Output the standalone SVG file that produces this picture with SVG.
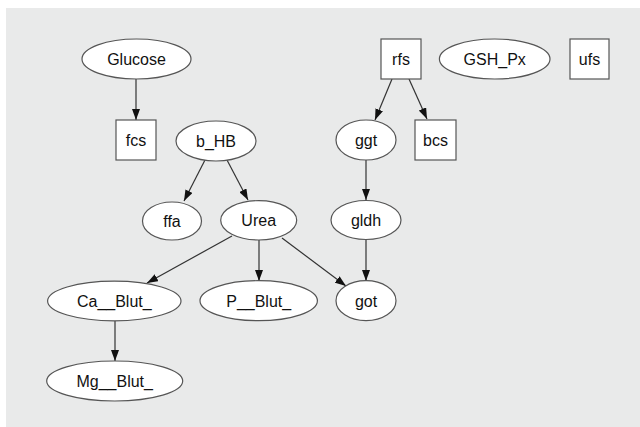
<svg xmlns="http://www.w3.org/2000/svg" width="640" height="427" viewBox="0 0 640 427">
<style>
.n ellipse, .n rect { fill: #ffffff; stroke: #555555; stroke-width: 1.2; }
.n text { font-family: "Liberation Sans", "DejaVu Sans", sans-serif; font-size: 16px; fill: #111111; text-anchor: middle; }
.e line { stroke: #333333; stroke-width: 1.2; marker-end: url(#arr); }
</style>
<defs>
<marker id="arr" viewBox="0 0 11 8" refX="11" refY="4" markerWidth="11" markerHeight="8" markerUnits="userSpaceOnUse" orient="auto">
<path d="M0,0 L11,4 L0,8 z" fill="#111111"/>
</marker>
</defs>
<rect x="0" y="0" width="640" height="427" fill="#ffffff"/>
<rect x="6" y="8" width="634" height="419" fill="#e9eaea"/>
<g class="e" id="edges">
<line x1="136" y1="79" x2="136" y2="120"/>
<line x1="205" y1="160" x2="184" y2="201"/>
<line x1="227" y1="160" x2="248" y2="200"/>
<line x1="392" y1="79" x2="375" y2="120"/>
<line x1="409" y1="79" x2="427" y2="119"/>
<line x1="366" y1="160" x2="366" y2="200"/>
<line x1="232" y1="236" x2="147" y2="283"/>
<line x1="259" y1="240" x2="259" y2="281"/>
<line x1="282" y1="238" x2="346" y2="286"/>
<line x1="366" y1="240" x2="366" y2="281"/>
<line x1="115" y1="321" x2="115" y2="361"/>
</g>
<g class="n" id="Glucose"><ellipse cx="136.5" cy="59" rx="54.5" ry="20"/><text x="136.5" y="65">Glucose</text></g>
<g class="n" id="fcs"><rect x="116" y="120" width="40" height="40"/><text x="136" y="146">fcs</text></g>
<g class="n" id="b_HB"><ellipse cx="216" cy="141" rx="40" ry="20"/><text x="216" y="147">b_HB</text></g>
<g class="n" id="ffa"><ellipse cx="172" cy="221" rx="29.5" ry="19"/><text x="172" y="227">ffa</text></g>
<g class="n" id="Urea"><ellipse cx="258.7" cy="220.3" rx="38" ry="19.7"/><text x="258.7" y="226">Urea</text></g>
<g class="n" id="rfs"><rect x="381" y="39" width="40" height="40"/><text x="401" y="65">rfs</text></g>
<g class="n" id="GSH_Px"><ellipse cx="494.7" cy="59" rx="55.3" ry="20"/><text x="494.7" y="65">GSH_Px</text></g>
<g class="n" id="ufs"><rect x="570" y="39" width="39" height="40"/><text x="589.5" y="65">ufs</text></g>
<g class="n" id="ggt"><ellipse cx="366" cy="140" rx="30" ry="20"/><text x="366" y="146">ggt</text></g>
<g class="n" id="bcs"><rect x="415" y="120" width="41" height="40"/><text x="435.5" y="146">bcs</text></g>
<g class="n" id="gldh"><ellipse cx="366" cy="220" rx="35" ry="19.5"/><text x="366" y="226">gldh</text></g>
<g class="n" id="Ca__Blut_"><ellipse cx="114.3" cy="301" rx="66.7" ry="19.8"/><text x="114.3" y="307">Ca__Blut_</text></g>
<g class="n" id="P__Blut_"><ellipse cx="258.7" cy="300.7" rx="58.7" ry="20"/><text x="258.7" y="306.5">P__Blut_</text></g>
<g class="n" id="got"><ellipse cx="366" cy="300.7" rx="30" ry="20"/><text x="366" y="306.5">got</text></g>
<g class="n" id="Mg__Blut_"><ellipse cx="114.7" cy="381" rx="68" ry="20"/><text x="114.7" y="387">Mg__Blut_</text></g>
</svg>
